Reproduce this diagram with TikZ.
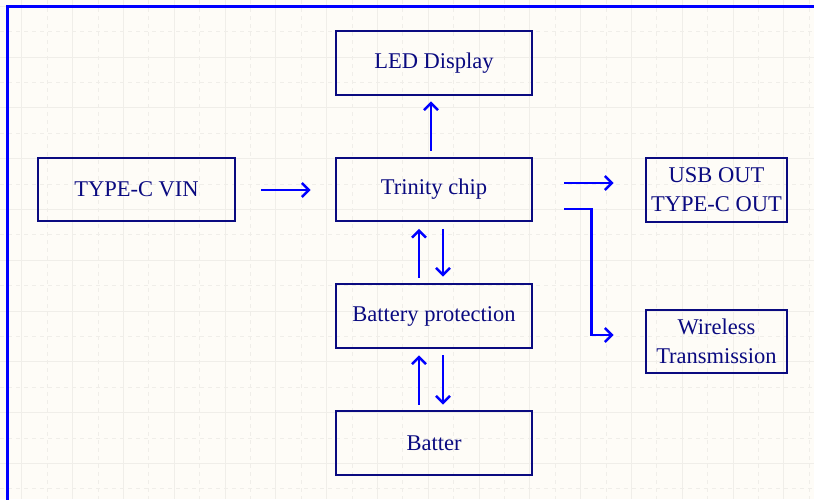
\documentclass[tikz,border=0pt]{standalone}
\usepackage{fontspec}
\setmainfont{Liberation Serif}
\usetikzlibrary{calc,arrows.meta}
\definecolor{bgc}{RGB}{254,252,247}
\definecolor{gridc}{RGB}{240,238,233}
\definecolor{navy}{RGB}{10,10,128}
\definecolor{wire}{RGB}{0,0,255}
\tikzset{
  blockbox/.style={draw=navy, line width=2.8pt, text=navy, align=center,
    font=\fontsize{22.5}{29}\selectfont, inner sep=0pt},
  arr/.style={draw=wire, line width=2.6pt, -{Straight Barb[length=7pt,width=14pt,line width=2.4pt]}},
  gridsolid/.style={draw=gridc, line width=0.8pt},
  griddash/.style={draw=gridc, line width=0.8pt, dash pattern=on 4pt off 4pt},
}
\begin{document}
\begin{tikzpicture}[x=1pt,y=-1pt]
\useasboundingbox (0,0) rectangle (814,499);
\fill[bgc] (0,0) rectangle (814,499);
% grid
\foreach \k in {-1,...,10} {
  \draw[gridsolid] (0,{57+50.8*\k}) -- (814,{57+50.8*\k});
  \draw[griddash] (0,{31.6+50.8*\k}) -- (814,{31.6+50.8*\k});
}
\foreach \k in {0,...,16} {
  \draw[gridsolid] ({21.8+50.8*\k},0) -- ({21.8+50.8*\k},499);
  \draw[griddash] ({47.2+50.8*\k},0) -- ({47.2+50.8*\k},499);
}
% frame
\coordinate (fbl) at (7,500);
\coordinate (ftl) at (7,6);
\coordinate (ftr) at (815,6);
\draw[wire, line width=3pt] (fbl) -- (ftl) -- (ftr);
% blocks
\node[blockbox, minimum width=196pt, minimum height=64pt] (led) at (434,63) {LED Display};
\node[blockbox, minimum width=197pt, minimum height=63pt] (vin) at (136.5,189.5) {TYPE-C VIN};
\node[blockbox, minimum width=196pt, minimum height=63pt] (chip) at (434,189.5) {Trinity chip};
\node[blockbox, minimum width=141pt, minimum height=64pt] (usb) at (716.5,190) {USB OUT\\TYPE-C OUT};
\node[blockbox, minimum width=141pt, minimum height=63pt] (wless) at (716.5,341.5) {Wireless\\Transmission};
\node[blockbox, minimum width=196pt, minimum height=64pt] (bp) at (434,316) {Battery protection};
\node[blockbox, minimum width=196pt, minimum height=64pt] (bat) at (434,443) {Batter};
% connectors
\draw[arr] ($(vin.east)+(25,0.5)$) -- ($(chip.west)+(-24,0.5)$);
\draw[arr] ($(chip.north)+(-3,-6)$) -- ($(led.south)+(-3,5)$);
\draw[arr] ($(chip.east)+(31,-6.5)$) -- ($(usb.west)+(-31,-7)$);
\draw[arr] ($(chip.east)+(31,19.5)$) -- ++(27,0) |- ($(wless.west)+(-31,-6.5)$);
\draw[arr] ($(bp.north)+(-15,-5)$) -- ($(chip.south)+(-15,6.5)$);
\draw[arr] ($(chip.south)+(9,6.5)$) -- ($(bp.north)+(9,-6)$);
\draw[arr] ($(bat.north)+(-15,-5)$) -- ($(bp.south)+(-15,6)$);
\draw[arr] ($(bp.south)+(9,6)$) -- ($(bat.north)+(9,-5)$);
\end{tikzpicture}
\end{document}
